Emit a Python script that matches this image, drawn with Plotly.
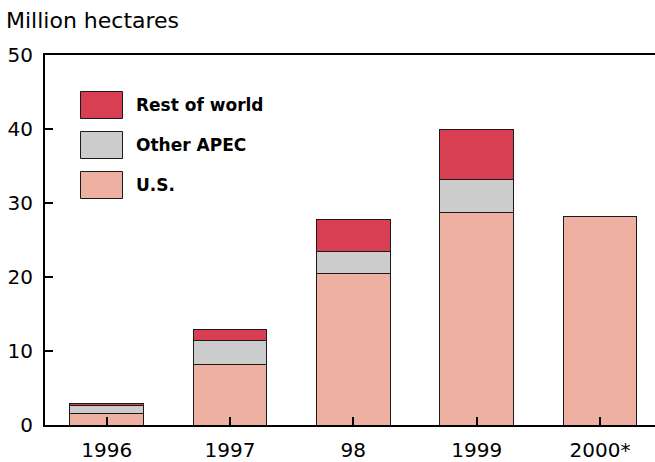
import plotly.graph_objects as go

years = ["1996", "1997", "98", "1999", "2000*"]
us = [1.6, 8.2, 20.5, 28.7, 28.2]
other_apec = [1.1, 3.2, 3.0, 4.5, 0]
rest_of_world = [0.2, 1.5, 4.3, 6.8, 0]
y_ticks = [0, 10, 20, 30, 40, 50]

W, H = 655, 462
ML, MR, MT, MB = 45, 0, 55, 37
PW, PH = W - ML - MR, H - MT - MB

FONT = "DejaVu Sans"
C_ROW = "#D83F52"
C_APEC = "#CCCCCC"
C_US = "#EEB0A0"
EDGE = "#1a1a1a"

series = [("U.S.", us, C_US), ("Other APEC", other_apec, C_APEC),
          ("Rest of world", rest_of_world, C_ROW)]

fig = go.Figure()
for name, vals, col in series:
    fig.add_trace(go.Bar(
        x=years, y=vals, name=name, width=0.595,
        marker=dict(color=col, line=dict(color=EDGE, width=1)),
        showlegend=False,
    ))


def px_x(px):
    return (px - ML) / PW


def px_y(py):
    return (H - MB - py) / PH


# legend drawn as swatches + bold labels
legend_rows = [("Rest of world", C_ROW, 105), ("Other APEC", C_APEC, 145), ("U.S.", C_US, 185)]
shapes = []
annotations = []
for label, col, cy in legend_rows:
    shapes.append(dict(type="rect", xref="paper", yref="paper",
                       x0=px_x(80.5), x1=px_x(122.5), y0=px_y(cy - 13.5), y1=px_y(cy + 13.5),
                       fillcolor=col, line=dict(color=EDGE, width=1)))
    annotations.append(dict(text=f"<b>{label}</b>", xref="paper", yref="paper",
                            x=px_x(134), y=px_y(cy), xanchor="left", yanchor="middle",
                            showarrow=False, font=dict(family=FONT, size=17, color="#000")))

annotations.append(dict(text="Million hectares", xref="paper", yref="paper",
                        x=px_x(4), y=px_y(20), xanchor="left", yanchor="middle",
                        showarrow=False, font=dict(family=FONT, size=22, color="#000")))

fig.update_layout(
    barmode="stack",
    width=W, height=H,
    margin=dict(l=ML, r=MR, t=MT, b=MB, pad=0),
    paper_bgcolor="white", plot_bgcolor="white",
    font=dict(family=FONT, size=20, color="#000"),
    shapes=shapes, annotations=annotations,
    xaxis=dict(range=[-0.5, 4.446], showline=True, linecolor="#000", linewidth=2,
               mirror=True, ticks="inside", ticklen=8, tickwidth=2, tickcolor="#000",
               showgrid=False, tickfont=dict(size=20), ticklabelstandoff=6),
    yaxis=dict(range=[0, 50], tickvals=y_ticks, showline=True, linecolor="#000",
               linewidth=2, ticks="inside", ticklen=8, tickwidth=2, tickcolor="#000",
               showgrid=False, zeroline=False, tickfont=dict(size=20), ticklabelstandoff=6),
)

fig.write_html("out.html")
